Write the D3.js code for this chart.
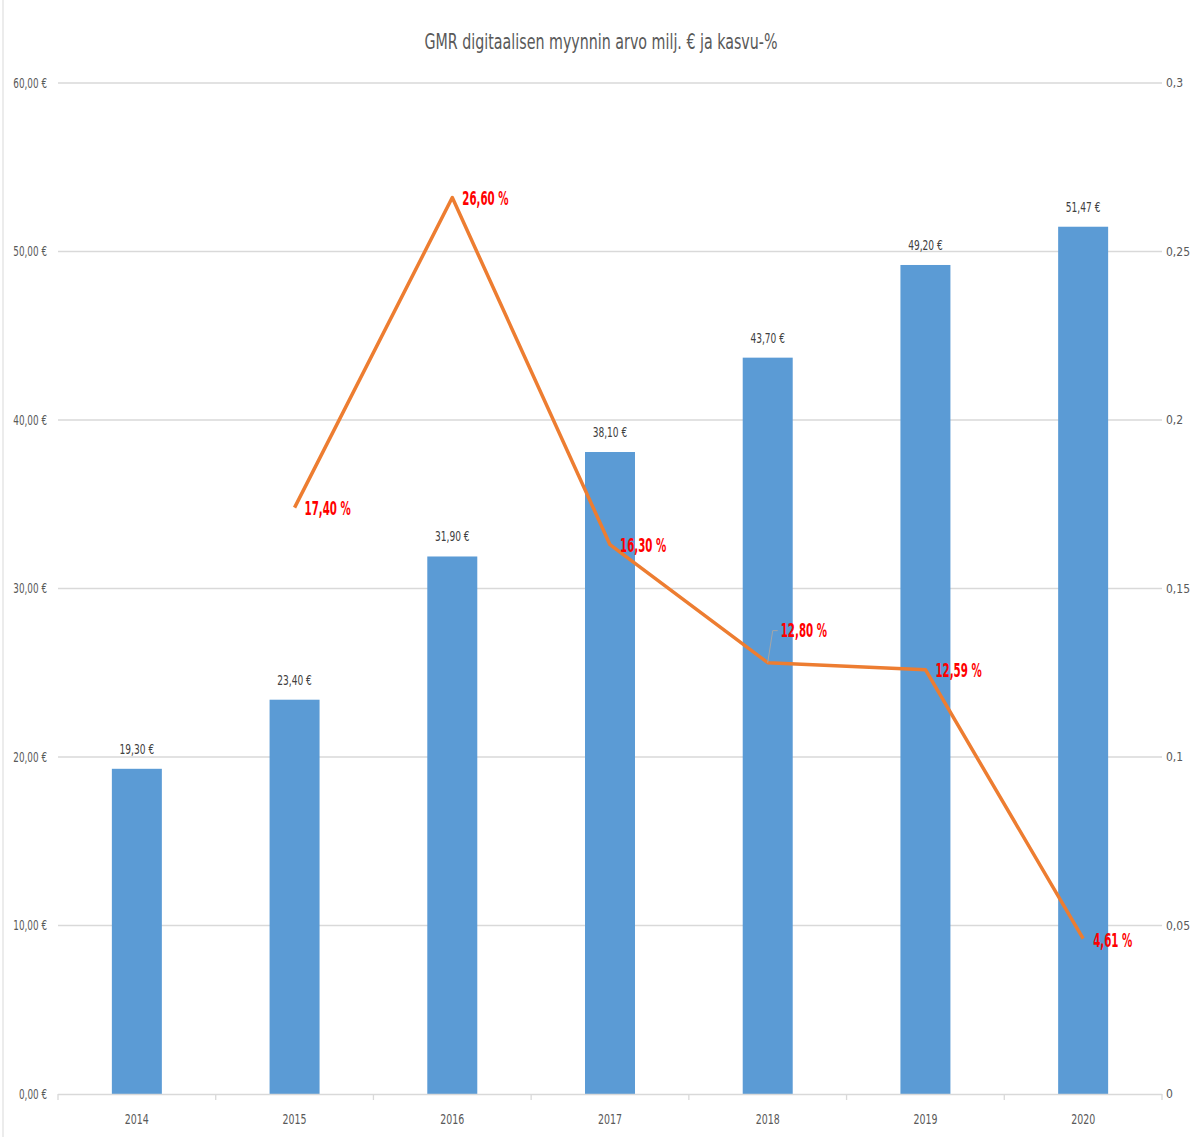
<!DOCTYPE html>
<html><head><meta charset="utf-8">
<script src="https://cdn.jsdelivr.net/npm/d3@7"></script>
<style>
body{margin:0;background:#fff;}
text{font-family:"DejaVu Sans Condensed","Liberation Sans Narrow",sans-serif;font-stretch:condensed;}
</style></head>
<body>
<script>
const years = ["2014","2015","2016","2017","2018","2019","2020"];
const sales = [19.30,23.40,31.90,38.10,43.70,49.20,51.47];
const growth = [null,0.174,0.266,0.163,0.128,0.1259,0.0461];
const salesLabels = ["19,30 €","23,40 €","31,90 €","38,10 €","43,70 €","49,20 €","51,47 €"];
const growthLabels = [null,"17,40 %","26,60 %","16,30 %","12,80 %","12,59 %","4,61 %"];
const leftTicks = [0,10,20,30,40,50,60];
const leftTickLabels = ["0,00 €","10,00 €","20,00 €","30,00 €","40,00 €","50,00 €","60,00 €"];
const rightTicks = [0,0.05,0.1,0.15,0.2,0.25,0.3];
const rightTickLabels = ["0","0,05","0,1","0,15","0,2","0,25","0,3"];
const title = "GMR digitaalisen myynnin arvo milj. € ja kasvu-%";

const W=1191,H=1137;
const m={left:58,right:1162,top:83,bottom:1094};
const svg=d3.select("body").append("svg").attr("width",W).attr("height",H);
svg.append("rect").attr("x",3).attr("y",-2).attr("width",W+5).attr("height",H+4).attr("fill","#fff").attr("stroke","#d9d9d9");

function squeeze(sel,k){
  sel.each(function(){
    const w=this.getComputedTextLength();
    d3.select(this).attr("textLength",w*k).attr("lengthAdjust","spacingAndGlyphs");
  });
}

const x=d3.scaleBand().domain(years).range([m.left,m.right]).paddingInner(0.683).paddingOuter(0.3415);
const y=d3.scaleLinear().domain([0,60]).range([m.bottom,m.top]);
const y2=d3.scaleLinear().domain([0,0.3]).range([m.bottom,m.top]);
const xc=d=>x(d)+x.bandwidth()/2;

const t=svg.append("text").attr("x",601).attr("y",49).attr("text-anchor","middle").attr("font-size",22).attr("fill","#595959").text(title);
squeeze(t,0.72);

// gridlines
svg.append("g").selectAll("line").data(leftTicks.filter(t=>t>0)).join("line")
 .attr("x1",m.left).attr("x2",m.right).attr("y1",d=>y(d)).attr("y2",d=>y(d)).attr("stroke","#d9d9d9").attr("stroke-width",1.3);

// left axis labels
const la=d3.axisLeft(y).tickValues(leftTicks).tickFormat((d,i)=>leftTickLabels[i]).tickSize(0).tickPadding(11);
const gL=svg.append("g").attr("transform",`translate(${m.left},0)`).call(la);
gL.select(".domain").remove();
gL.selectAll("text").attr("font-size",14).attr("fill","#595959").attr("font-family",null);
squeeze(gL.selectAll("text"),0.7);

const ra=d3.axisRight(y2).tickValues(rightTicks).tickFormat((d,i)=>rightTickLabels[i]).tickSize(0).tickPadding(4);
const gR=svg.append("g").attr("transform",`translate(${m.right},0)`).call(ra);
gR.select(".domain").remove();
gR.selectAll("text").attr("font-size",12).attr("fill","#595959").attr("font-family",null);

// bars
svg.append("g").selectAll("rect").data(years).join("rect")
 .attr("x",d=>x(d)).attr("width",x.bandwidth())
 .attr("y",(d,i)=>y(sales[i])).attr("height",(d,i)=>y(0)-y(sales[i]))
 .attr("fill","#5B9BD5");

// x axis
svg.append("line").attr("x1",m.left).attr("x2",m.right).attr("y1",m.bottom+0.5).attr("y2",m.bottom+0.5).attr("stroke","#d9d9d9").attr("stroke-width",1.3);
const step=x.step();
svg.append("g").selectAll("line").data(d3.range(years.length+1)).join("line")
 .attr("x1",i=>m.left+i*step).attr("x2",i=>m.left+i*step).attr("y1",m.bottom).attr("y2",m.bottom+6).attr("stroke","#d9d9d9").attr("stroke-width",1.3);
const yl=svg.append("g").selectAll("text").data(years).join("text")
 .attr("x",d=>xc(d)).attr("y",1124).attr("text-anchor","middle").attr("font-size",14).attr("fill","#595959").text(d=>d);
squeeze(yl,0.75);

// bar labels
const bl=svg.append("g").selectAll("text").data(years).join("text")
 .attr("x",d=>xc(d)).attr("y",(d,i)=>y(sales[i])-15).attr("text-anchor","middle").attr("font-size",14).attr("fill","#404040").text((d,i)=>salesLabels[i]);
squeeze(bl,0.72);

// line
const pts=years.map((d,i)=>({x:xc(d),v:growth[i],l:growthLabels[i]})).filter(p=>p.v!==null);
svg.append("path").datum(pts).attr("d",d3.line().x(p=>p.x).y(p=>y2(p.v)))
 .attr("fill","none").attr("stroke","#ED7D31").attr("stroke-width",3.5).attr("stroke-linejoin","round");

// leader line for 12,80
const p18=pts.find(p=>p.l==="12,80 %");
svg.append("polyline").attr("points",`${p18.x},${y2(p18.v)} ${p18.x+5},${y2(p18.v)-32} ${p18.x+10},${y2(p18.v)-32}`)
 .attr("fill","none").attr("stroke","#a6a6a6").attr("stroke-width",1);

const offs={"17,40 %":[10,1],"26,60 %":[10,1],"16,30 %":[10,1],"12,80 %":[13,-32],"12,59 %":[10,1],"4,61 %":[10,2]};
const gl=svg.append("g").selectAll("text").data(pts).join("text")
 .attr("x",p=>p.x+offs[p.l][0]).attr("y",p=>y2(p.v)+offs[p.l][1]).attr("dy","0.35em")
 .attr("font-size",19).attr("font-weight","bold").attr("fill","#FF0000").text(p=>p.l);
squeeze(gl,0.6);
</script>
</body></html>
